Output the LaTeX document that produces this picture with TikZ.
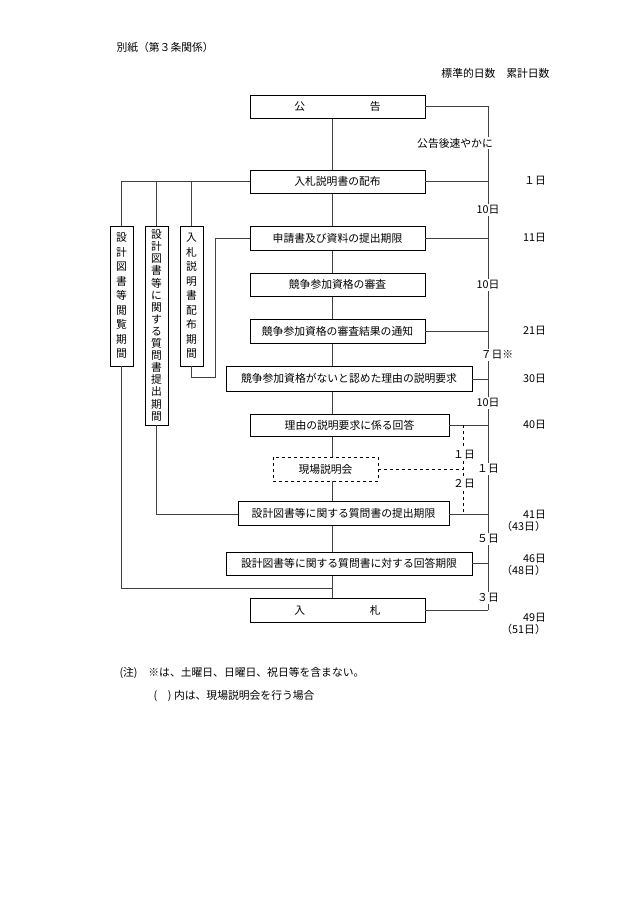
\documentclass[tikz,border=0pt]{standalone}
\usepackage{fontspec}
\setmainfont{Noto Sans CJK JP}
\begin{document}
\begin{tikzpicture}[x=1pt,y=-1pt,
  every node/.style={font=\fontsize{10.8}{12.5}\selectfont},
  box/.style={draw,thick,fill=white,inner sep=0pt,anchor=north west},
  lbl/.style={fill=white,inner sep=1pt},
  cum/.style={anchor=east,inner sep=0pt,align=right},
  ln/.style={thick,draw=black!75}]
\useasboundingbox (0,0) rectangle (630,903);
\node[anchor=west] (title) at (113,47) {別紙（第３条関係）};
\node[anchor=east] (hdr) at (553,73) {標準的日数\quad 累計日数};
% center spine
\coordinate (top) at (332,118);
\coordinate (bot) at (332,598);
\draw[ln] (top) -- (bot);
% right timeline
\coordinate (r0) at (488,106);
\coordinate (r1) at (488,610);
\draw[ln] (r0) -- (r1);
% boxes
\newcommand{\bx}[6]{\node[box,minimum width=#4-#2,minimum height=#5-#3] (#1) at (#2,#3) {};
  \node at ({(#2+#4)/2},{(#3+#5)/2}) {#6};}
\bx{koku}{250}{95}{425}{118}{公\hspace{6em}告}
\bx{haifu}{250}{170}{425}{193}{入札説明書の配布}
\bx{shin}{250}{226}{425}{250}{申請書及び資料の提出期限}
\bx{shin2}{250}{273}{425}{296}{競争参加資格の審査}
\bx{tsuchi}{250}{319}{425}{343}{競争参加資格の審査結果の通知}
\bx{yokyu}{226}{366}{472}{391}{競争参加資格がないと認めた理由の説明要求}
\bx{kaito}{250}{414}{449}{436}{理由の説明要求に係る回答}
\node[box,draw=none,minimum width=105,minimum height=24] (genba) at (273,457) {};
\draw[thick,dashed] (273,457) rectangle (378,481);
\node at (325.5,469) {現場説明会};
\bx{teishutsu}{238}{501}{449}{525}{設計図書等に関する質問書の提出期限}
\bx{kigen}{226}{552}{472}{575}{設計図書等に関する質問書に対する回答期限}
\bx{nyusatsu}{250}{598}{425}{622}{入\hspace{6em}札}
% stubs to the right
\draw[ln] (425,106) -- (r0);
\foreach \y/\xa in {181/425,238/425,331/425,379/472,425/449,514/449,563/472,610/425}
  \draw[ln] (\xa,\y) -- (488,\y);
% dashed branch
\draw[thick,dashed] (463,425) -- (463,514);
\draw[thick,dashed] (378,469) -- (463,469);
% labels on timeline
\node[lbl] (l0) at (455,143) {公告後速やかに};
\node[lbl] (l1) at (488,210) {10日};
\node[lbl] (l2) at (488,285) {10日};
\node[lbl] (l3) at (497,355) {７日※};
\node[lbl] (l4) at (488,403) {10日};
\node[lbl] (l5) at (488,469) {１日};
\node[lbl] (l6) at (464,455) {１日};
\node[lbl] (l7) at (464,484) {２日};
\node[lbl] (l8) at (488,539) {５日};
\node[lbl] (l9) at (488,598) {３日};
% cumulative
\node[cum] (c1) at (546,181) {１日};
\node[cum] (c2) at (546,238) {11日};
\node[cum] (c3) at (546,331) {21日};
\node[cum] (c4) at (546,379) {30日};
\node[cum] (c5) at (546,425) {40日};
\node[cum] (c6) at (546,521) {41日\\（43日）};
\node[cum] (c7) at (546,565) {46日\\（48日）};
\node[cum] (c8) at (546,624) {49日\\（51日）};
% left vertical boxes
\node[box,minimum width=23,minimum height=140] (v1) at (110,226) {};
\node[align=center,font=\fontsize{10.8}{14.5}\selectfont] at (121.5,296) {設\\計\\図\\書\\等\\閲\\覧\\期\\間};
\node[box,minimum width=23,minimum height=199] (v2) at (145,226) {};
\node[align=center,font=\fontsize{10.8}{12.1}\selectfont] at (156.5,325.5) {設\\計\\図\\書\\等\\に\\関\\す\\る\\質\\問\\書\\提\\出\\期\\間};
\node[box,minimum width=23,minimum height=140] (v3) at (180,226) {};
\node[align=center,font=\fontsize{10.8}{14.5}\selectfont] at (191.5,296) {入\\札\\説\\明\\書\\配\\布\\期\\間};
% left connectors
\draw[ln] (250,181) -- (121.5,181) -- (121.5,226);
\draw[ln] (156.5,181) -- (156.5,226);
\draw[ln] (191.5,181) -- (191.5,226);
\draw[ln] (191.5,366) -- (191.5,377) -- (215,377) -- (215,238) -- (250,238);
\draw[ln] (156.5,425) -- (156.5,514) -- (238,514);
\draw[ln] (121.5,366) -- (121.5,588) -- (332,588);
% notes
\node[anchor=west] (n1) at (116,673) {(注)\quad ※は、土曜日、日曜日、祝日等を含まない。};
\node[anchor=west] (n2) at (150,696) {(\quad) 内は、現場説明会を行う場合};
\end{tikzpicture}
\end{document}
